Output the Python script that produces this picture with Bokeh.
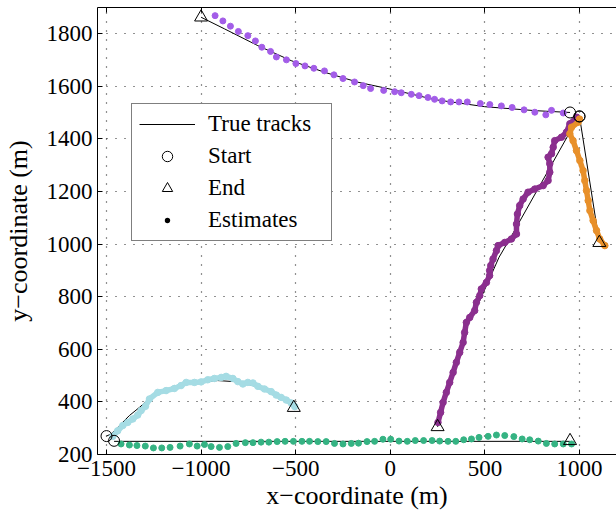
from bokeh.plotting import figure
from bokeh.models import Range1d, FixedTicker, LinearAxis, Legend, LegendItem
from bokeh.embed import file_html
from bokeh.resources import INLINE

# ---------------- data ----------------
X_TICKS = [-1500, -1000, -500, 0, 500, 1000]
X_TICK_LABELS = ["\u22121500", "\u22121000", "\u2212500", "0", "500", "1000"]
Y_TICKS = [200, 400, 600, 800, 1000, 1200, 1400, 1600, 1800]
Y_TICK_LABELS = ["200", "400", "600", "800", "1000", "1200", "1400", "1600", "1800"]

# true tracks (start -> end)
true1_x = [950, 764, 499, 234, 5, -171, -348, -524, -700, -877, -1000]
true1_y = [1500, 1507, 1522, 1549, 1588, 1615, 1653, 1697, 1754, 1818, 1862]
true2_x = [1000, 945, 640, 575, 470, 411, 250]
true2_y = [1485, 1420, 1030, 950, 780, 696, 305]
true3_x = [1000, 1105]
true3_y = [1485, 1005]
true4_x = [-1500, -1476, -1379, -1326, -1265, -1203, -1132, -1026, -912, -824, -735, -647, -559, -510]
true4_y = [270, 278, 348, 379, 417, 443, 462, 474, 481, 477, 464, 443, 411, 378]
true5_x = [-1460, 950]
true5_y = [250, 250]

start_x = [950, 1000, 1000, -1500, -1460]
start_y = [1500, 1485, 1485, 270, 252]
end_x = [-1000, 250, 1105, -510, 950]
end_y = [1862, 305, 1005, 378, 252]

# estimates
est1_x = [914, 852, 822, 764, 707, 644, 587, 526, 476, 407, 363, 319, 274, 234, 199, 152, 111, 58, 23,
          -35, -104, -143, -189, -250, -298, -348, -404, -451, -499, -549, -602, -633, -679, -713, -753,
          -803, -845, -885, -926]
est1_y = [1498, 1508, 1491, 1501, 1510, 1519, 1525, 1530, 1534, 1540, 1540, 1540, 1544, 1550, 1557, 1564,
          1569, 1575, 1579, 1584, 1591, 1602, 1616, 1629, 1643, 1658, 1668, 1677, 1686, 1700, 1711, 1732,
          1748, 1772, 1792, 1808, 1828, 1848, 1868]

est2_x = [985, 949, 931, 905, 869, 861, 852, 834, 843, 843, 834, 808, 764, 728, 702, 684, 672, 667, 667,
          640, 605, 570, 561, 543, 531, 525, 525, 508, 481, 473, 455, 446, 420, 402, 393, 385, 367, 349,
          332, 314, 296, 279, 266, 252]
est2_y = [1482, 1457, 1425, 1406, 1393, 1368, 1343, 1330, 1305, 1273, 1241, 1222, 1209, 1197, 1171, 1146,
          1114, 1076, 1038, 1019, 1006, 994, 975, 943, 918, 899, 880, 854, 829, 804, 778, 747, 721, 702,
          664, 626, 588, 550, 512, 474, 436, 398, 360, 322]

est3_x = [1000, 993, 958, 949, 966, 984, 1002, 1019, 1028, 1037, 1046, 1055, 1072, 1090, 1107, 1134]
est3_y = [1475, 1463, 1444, 1419, 1393, 1355, 1317, 1279, 1241, 1203, 1165, 1127, 1089, 1051, 1019, 994]

est4_x = [-1467, -1441, -1414, -1388, -1361, -1335, -1317, -1294, -1273, -1229, -1185, -1141, -1106, -1079,
          -1035, -1000, -965, -930, -894, -868, -832, -806, -779, -753, -726, -700, -665, -630, -603, -577,
          -550, -524, -505]
est4_y = [269, 290, 310, 322, 335, 350, 367, 383, 411, 436, 443, 451, 462, 474, 474, 476, 484, 489, 493,
          497, 489, 477, 468, 474, 472, 459, 449, 439, 426, 417, 407, 396, 382]

est5_x = [-1423, -1379, -1339, -1295, -1252, -1208, -1164, -1111, -1062, -1021, -982, -947, -903, -859,
          -815, -766, -726, -683, -642, -598, -556, -512, -467, -427, -383, -339, -295, -250, -206, -168,
          -123, -83, -39, 2, 46, 90, 132, 176, 221, 261, 305, 346, 388, 429, 469, 517, 561, 605, 653, 697,
          737, 782, 825, 869, 914, 958]
est5_y = [240, 236, 234, 232, 225, 225, 227, 232, 240, 232, 238, 230, 227, 230, 242, 245, 245, 247, 247,
          249, 250, 250, 250, 250, 249, 249, 242, 240, 242, 243, 249, 250, 258, 258, 251, 250, 253, 253,
          253, 251, 250, 250, 256, 259, 265, 269, 274, 272, 268, 259, 256, 251, 242, 240, 240, 240]

C_LPURPLE = "#a35de8"
C_DPURPLE = "#8b2f8e"
C_ORANGE = "#e8902a"
C_CYAN = "#a5dce4"
C_GREEN = "#35b383"

FONT = "Liberation Serif"

# ---------------- figure ----------------
p = figure(width=616, height=515,
           x_range=Range1d(-1547.6, 1195.6), y_range=Range1d(200, 1899),
           output_backend="svg", toolbar_location=None,
           min_border_left=97, min_border_right=0, min_border_top=7, min_border_bottom=61)
p.background_fill_color = "white"
p.border_fill_color = "white"
p.outline_line_color = None

for ax, ticks, labels in ((p.xaxis[0], X_TICKS, X_TICK_LABELS), (p.yaxis[0], Y_TICKS, Y_TICK_LABELS)):
    ax.ticker = FixedTicker(ticks=ticks)
    ax.major_label_overrides = {t: l for t, l in zip(ticks, labels)}
    ax.major_tick_in = 5
    ax.major_tick_out = 0
    ax.minor_tick_in = 0
    ax.minor_tick_out = 0
    ax.axis_line_color = "black"
    ax.major_tick_line_color = "black"
    ax.major_label_text_font = FONT
    ax.major_label_text_font_size = "23px"
    ax.major_label_text_color = "black"
    ax.axis_label_text_font = FONT
    ax.axis_label_text_font_size = "26px"
    ax.axis_label_text_font_style = "normal"
    ax.axis_label_text_color = "black"

p.xaxis.axis_label = "x\u2212coordinate (m)"
p.yaxis.axis_label = "y\u2212coordinate (m)"
p.xaxis.major_label_standoff = 6
p.xaxis.axis_label_standoff = 2
p.yaxis.major_label_standoff = 5
p.yaxis.axis_label_standoff = 11

top_ax = LinearAxis(ticker=FixedTicker(ticks=X_TICKS), major_tick_in=5, major_tick_out=0,
                    minor_tick_in=0, minor_tick_out=0,
                    major_label_overrides={t: "" for t in X_TICKS},
                    major_label_standoff=0, axis_line_color="black")
p.add_layout(top_ax, "above")

for g, ticks in ((p.xgrid[0], X_TICKS), (p.ygrid[0], Y_TICKS)):
    g.ticker = FixedTicker(ticks=ticks)
    g.grid_line_color = "#222222"
    g.grid_line_dash = "1 8"
    g.grid_line_width = 1.2

# true tracks
r_true = None
for tx, ty in ((true1_x, true1_y), (true2_x, true2_y), (true3_x, true3_y), (true4_x, true4_y), (true5_x, true5_y)):
    r = p.line(tx, ty, line_color="black", line_width=1)
    if r_true is None:
        r_true = r

# dense estimates (drawn as thick traces with dots)
for ex, ey, c in ((est4_x, est4_y, C_CYAN), (est2_x, est2_y, C_DPURPLE), (est3_x, est3_y, C_ORANGE)):
    p.line(ex, ey, line_color=c, line_width=5.5, line_join="round", line_cap="round")
    p.scatter(ex, ey, size=6.5, fill_color=c, line_color=c)

# sparse estimates
p.scatter(est1_x, est1_y, size=6, fill_color=C_LPURPLE, line_color=C_LPURPLE)
p.scatter(est5_x, est5_y, size=6, fill_color=C_GREEN, line_color=C_GREEN)

r_start = p.scatter(start_x, start_y, marker="circle", size=11, fill_color=None, line_color="black", line_width=1)
r_end = p.scatter(end_x, end_y, marker="triangle", size=13, fill_color=None, line_color="black", line_width=1)
# legend-only glyph for the black "Estimates" dot (no data point is drawn)
r_est_leg = p.scatter(x=[float("nan")], y=[float("nan")], marker="circle", size=6,
                      fill_color="black", line_color="white", line_width=5)

legend = Legend(items=[LegendItem(label="True tracks", renderers=[r_true]),
                       LegendItem(label="Start", renderers=[r_start]),
                       LegendItem(label="End", renderers=[r_end]),
                       LegendItem(label="Estimates", renderers=[r_est_leg])],
                location=(34, 213))
legend.label_text_font = FONT
legend.label_text_font_size = "23px"
legend.label_text_color = "black"
legend.glyph_width = 56
legend.glyph_height = 26
legend.label_height = 26
legend.label_width = 116
legend.label_standoff = 13
legend.spacing = 6
legend.padding = 7
legend.margin = 0
legend.border_line_color = "black"
legend.border_line_width = 1
legend.background_fill_color = "white"
legend.background_fill_alpha = 1
p.add_layout(legend)

open("out.html", "w").write(file_html(p, INLINE))
